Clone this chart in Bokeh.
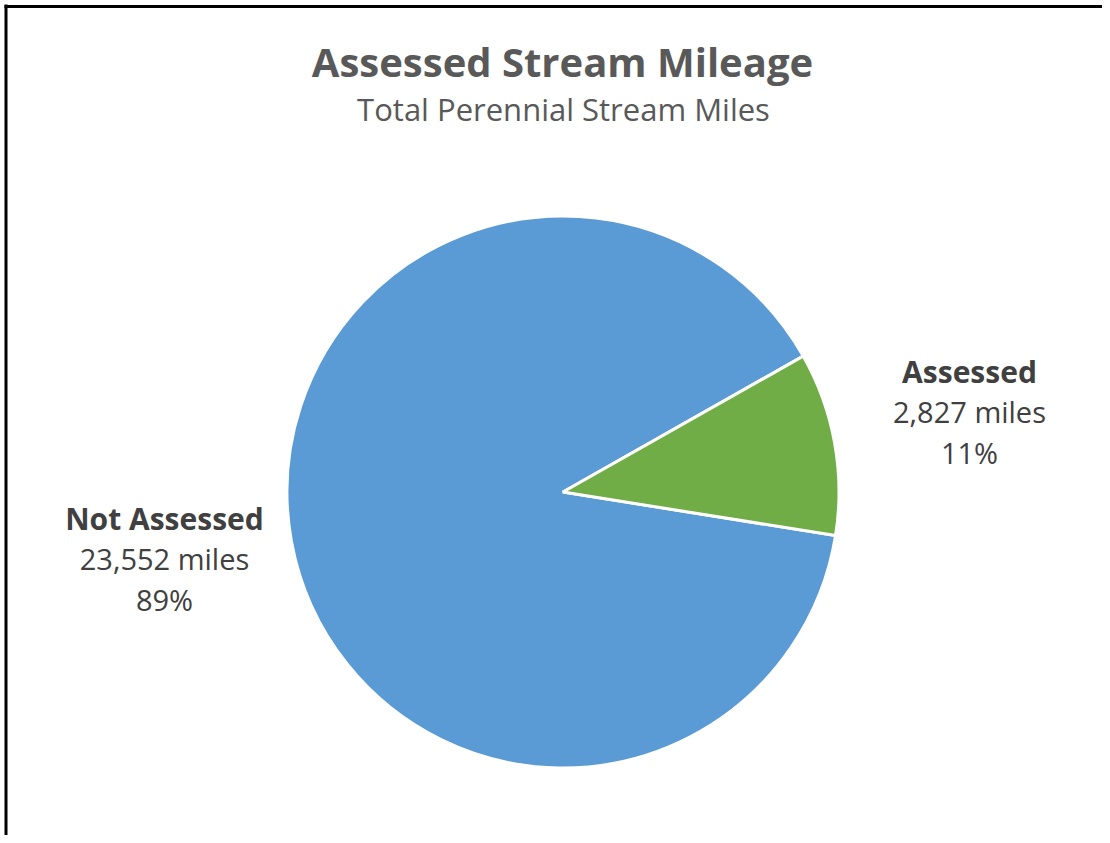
import math
from bokeh.plotting import figure
from bokeh.models import Range1d, ColumnDataSource
from bokeh.core.properties import value
from bokeh.embed import file_html
from bokeh.resources import INLINE

# ---- data ----
categories = ["Not Assessed", "Assessed"]
miles = [23552, 2827]
colors = ["#5B9BD5", "#70AD47"]
title_text = "Assessed Stream Mileage"
subtitle_text = "Total Perennial Stream Miles"

W, H = 1102, 835
FONT = "Open Sans"

p = figure(width=W, height=H, output_backend="svg", toolbar_location=None,
           x_range=Range1d(0, W), y_range=Range1d(0, H), min_border=0,
           outline_line_color=None)
p.axis.visible = False
p.grid.visible = False
p.background_fill_color = "white"
p.border_fill_color = "white"

def Y(y_ref):
    return H - y_ref

def X(x_ref):
    return x_ref

# ---- pie ----
total = sum(miles)
fracs = [m / total for m in miles]
# Assessed slice ends at ~29.5 degrees (counter-clockwise from east)
end_assessed = math.radians(29.5)
start_assessed = end_assessed - fracs[1] * 2 * math.pi
starts = [end_assessed, start_assessed]
ends = [start_assessed + 2 * math.pi, end_assessed]
cx, cy, r = X(562.5), Y(491.5), 276
src = ColumnDataSource(dict(start=starts, end=ends, color=colors, cat=categories))
p.wedge(x=cx, y=cy, radius=r, start_angle="start", end_angle="end",
        fill_color="color", line_color="white", line_width=3, source=src)

# ---- labels ----
pcts = [f"{round(f * 100)}%" for f in fracs]
vals = [f"{m:,} miles" for m in miles]
label_pos = {"Not Assessed": (164, 518), "Assessed": (969, 371)}
for cat, v, pc in zip(categories, vals, pcts):
    lx, ly = label_pos[cat]
    p.text(x=[X(lx)], y=[Y(ly)], text=[cat], text_align="center", text_baseline="middle",
           text_font=value(FONT), text_font_style="bold", text_font_size="30px",
           text_color="#404040")
    p.text(x=[X(lx)], y=[Y(ly + 40)], text=[v], text_align="center", text_baseline="middle",
           text_font=value(FONT), text_font_size="29px", text_color="#404040")
    p.text(x=[X(lx)], y=[Y(ly + 81)], text=[pc], text_align="center", text_baseline="middle",
           text_font=value(FONT), text_font_size="29px", text_color="#404040")

# ---- titles ----
p.text(x=[X(562)], y=[Y(61)], text=[title_text], text_align="center", text_baseline="middle",
       text_font=value(FONT), text_font_style="bold", text_font_size="40px", text_color="#595959")
p.text(x=[X(563)], y=[Y(108)], text=[subtitle_text], text_align="center", text_baseline="middle",
       text_font=value(FONT), text_font_size="31px", text_color="#595959")

# ---- border (top and left) ----
p.segment(x0=[4], y0=[Y(6)], x1=[W], y1=[Y(6)], line_color="black", line_width=3)
p.segment(x0=[5.5], y0=[0], x1=[5.5], y1=[Y(4)], line_color="black", line_width=3)

open("out.html", "w").write(file_html(p, INLINE))
